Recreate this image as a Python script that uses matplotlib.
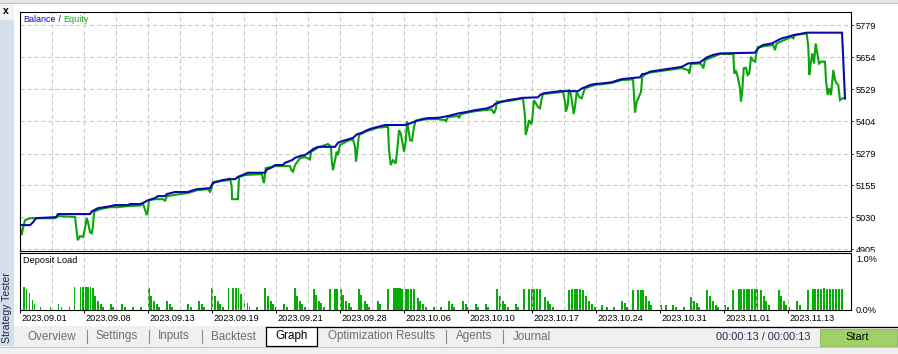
import numpy as np
import matplotlib
matplotlib.use('Agg')
import matplotlib.pyplot as plt
from matplotlib.patches import Rectangle
from matplotlib.transforms import ScaledTranslation

# ---- data ----
pos_bal = [20, 30, 33, 36, 56, 58, 90, 92, 98, 111, 115, 128, 130, 140, 143, 148, 155, 158, 165, 167,
           175, 188, 190, 197, 210, 213, 222, 228, 235, 238, 245, 248, 265, 267, 272, 275, 283, 285, 292, 295,
           300, 305, 310, 313, 318, 335, 338, 342, 348, 353, 357, 362, 367, 372, 378, 385, 405, 412, 417, 422,
           428, 438, 448, 458, 468, 475, 487, 493, 495, 502, 508, 515, 523, 538, 540, 543, 550, 560, 578, 582,
           585, 590, 595, 602, 612, 618, 622, 632, 640, 642, 647, 650, 660, 672, 682, 688, 700, 703, 707, 713,
           720, 755, 758, 763, 772, 777, 782, 788, 793, 800, 807, 842, 843, 844, 845]
balance = [5000, 5000, 5011, 5027, 5031, 5043, 5043, 5054, 5066, 5074, 5078, 5078, 5082, 5082, 5086, 5097, 5105, 5113, 5113, 5121,
           5129, 5129, 5132, 5140, 5144, 5164, 5175, 5179, 5179, 5188, 5199, 5204, 5204, 5217, 5225, 5234, 5234, 5243, 5253, 5262,
           5269, 5273, 5286, 5296, 5305, 5305, 5321, 5327, 5334, 5340, 5354, 5360, 5370, 5377, 5383, 5390, 5390, 5399, 5407, 5413,
           5417, 5418, 5425, 5435, 5442, 5448, 5455, 5464, 5472, 5481, 5487, 5491, 5496, 5498, 5507, 5513, 5517, 5522, 5522, 5533,
           5537, 5546, 5550, 5552, 5557, 5565, 5569, 5573, 5576, 5588, 5591, 5598, 5604, 5611, 5617, 5630, 5634, 5643, 5654, 5663,
           5669, 5672, 5689, 5702, 5708, 5719, 5728, 5734, 5740, 5745, 5750, 5750, 5669, 5578, 5494]

pos_eq = [20, 21.7, 23, 25, 30, 55, 58, 75, 77.7, 80, 83, 85, 86.7, 88, 90, 91.7, 93, 94, 100, 110,
          118, 128, 140, 143, 145, 146.7, 148, 149, 155, 163, 165, 167, 180, 188, 197, 208, 210, 211, 213, 222,
          228, 230, 231.7, 232, 238, 239, 245, 262, 263, 264, 265.7, 275, 290, 291.7, 293, 295, 300, 305, 310, 311,
          318, 328, 331, 331.7, 333, 335, 336.7, 338, 340, 348, 353, 355, 356, 357.7, 359, 366.7, 378, 388, 389, 390.7,
          393, 395.7, 397.7, 399, 400.7, 402, 404, 405.7, 407, 408, 410, 412, 414, 415.7, 428, 438, 445, 446, 448, 458,
          459, 461, 475, 491.7, 494, 496, 496.7, 508, 523, 524, 525, 525.7, 527.7, 529, 531, 532, 533, 534, 536, 537.7,
          540, 541.7, 543, 560, 563, 565, 566, 567.7, 569, 571, 572, 573.7, 575, 576.7, 579, 581.7, 583.7, 585, 595, 611.7,
          621.7, 633, 634, 635, 636.7, 638.3, 641, 642.3, 646.7, 660, 681.7, 688.3, 689.3, 691, 700, 701.7, 703.3, 705, 720, 733.3,
          734.3, 735.7, 737.7, 740, 741, 742.3, 743.7, 746, 747.7, 749.3, 751, 752.7, 755, 756.7, 758.3, 773.3, 775, 776.7, 791.7, 793.3,
          795, 806.7, 808.3, 809.3, 810.7, 812.3, 814, 815.7, 817.3, 819, 821, 825, 826, 827.7, 829.3, 831, 833.3, 835, 836.7, 838.3,
          840, 842.3, 845]
equity = [4992, 4961, 4988, 5019, 5027, 5027, 5035, 5032, 4941, 4957, 4954, 4988, 5027, 5012, 4972, 4968, 4996, 5052, 5062, 5070,
          5070, 5074, 5076, 5082, 5061, 5039, 5058, 5097, 5101, 5101, 5095, 5113, 5121, 5125, 5136, 5140, 5130, 5136, 5168, 5172,
          5175, 5183, 5149, 5101, 5101, 5187, 5195, 5199, 5175, 5164, 5222, 5230, 5230, 5212, 5208, 5234, 5261, 5265, 5256, 5285,
          5302, 5316, 5305, 5253, 5214, 5253, 5286, 5273, 5312, 5329, 5334, 5305, 5247, 5305, 5351, 5366, 5380, 5383, 5292, 5234,
          5253, 5240, 5312, 5370, 5357, 5331, 5286, 5325, 5403, 5383, 5331, 5329, 5383, 5407, 5413, 5413, 5409, 5405, 5421, 5425,
          5417, 5433, 5444, 5451, 5435, 5455, 5481, 5483, 5494, 5461, 5422, 5351, 5383, 5409, 5396, 5403, 5448, 5487, 5474, 5461,
          5455, 5494, 5511, 5518, 5520, 5481, 5442, 5468, 5529, 5507, 5481, 5433, 5461, 5520, 5500, 5494, 5520, 5534, 5546, 5554,
          5565, 5568, 5507, 5438, 5481, 5494, 5520, 5578, 5593, 5600, 5612, 5604, 5591, 5628, 5630, 5624, 5611, 5643, 5667, 5667,
          5591, 5604, 5578, 5533, 5481, 5526, 5611, 5613, 5585, 5591, 5656, 5643, 5637, 5676, 5694, 5702, 5682, 5708, 5734, 5728,
          5741, 5747, 5695, 5585, 5630, 5669, 5630, 5708, 5669, 5630, 5637, 5637, 5565, 5507, 5533, 5507, 5604, 5565, 5552, 5546,
          5487, 5494, 5494]

pos_load = [24, 26.5, 29.5, 32.5, 34.5, 40.5, 50.5, 58.5, 61.5, 69.5,
            74.5, 80.5, 82.7, 85.7, 88, 90.5, 93.3, 95.3, 98.3, 101.3, 103.3,
            111.3, 113.3, 122.3, 125.3, 133.3, 141.3,
            149.3, 151.3, 154.3, 157.3, 159.3, 167.3, 170.3, 172.3, 188.3, 191.3, 199.3, 202.3, 204.3,
            212.3, 215.3, 218.3, 220.3, 223.3,
            228.5, 233, 236, 238.5, 241, 244.5, 247.5, 249.5, 257.3,
            265.3, 268.3, 271.3, 273.3, 276.3, 284.3, 287.3,
            295.3, 297.3, 300.3, 302.3, 305,
            313.7, 315.7, 318.7, 320.7, 323.7,
            329.7, 334.7, 336.7, 340.7, 342.7, 345.7, 348.7, 350.7,
            358.7, 360.7, 364.7, 366.7, 368.7, 377.7, 379.7,
            387.7, 393.7, 395.7, 397.7, 399.7, 401.7, 405.7, 407.7, 410.7, 413.7, 417.7, 419.7, 422.7, 425.7,
            433.7, 440.7, 448.7, 451.7, 453.7, 462.7, 465.7, 467.7, 475.7, 477.7, 485.7, 487.7,
            496.7, 499.7, 502.7, 504.7, 507.7, 515.7, 517.7,
            523.7, 528.7, 531.7, 533.7, 536.7, 539.7, 544.7, 547.7, 549.7, 552.7,
            568.7, 571.7, 574.7, 576.7, 579.7, 582.7, 585.7, 588.7, 591.7, 594.7,
            601.7, 606.7, 613.7, 621.7, 624.7, 626.7,
            632.7, 637.7, 640.7, 642.7, 645.7, 648.7, 650.7,
            660.7, 665.7, 672.7, 675.7, 683.7, 690.7, 693.7, 696.7, 698.7,
            706.7, 709.7, 712.7, 715.7, 717.7, 724.7, 727.7,
            732.7, 738.7, 740.7, 743.7, 746.7, 748.7, 751.7, 754.7, 756.7, 760.7, 763.7, 765.7, 768.7,
            778.7, 780.7, 783.7, 785.7, 788.7, 796.7, 799.7,
            807.7, 812.7, 814.7, 817.7, 820.7, 823.7, 826.7, 829.7, 832.7, 835.7, 838.7, 841.7]
load = [.43, .39, .33, .19, .10, .04, .04, .10, .04, .04,
        .43, .43, .43, .43, .43, .43, .41, .27, .17, .10, .04,
        .10, .04, .10, .04, .04, .04,
        .41, .27, .17, .10, .04, .17, .10, .04, .10, .04, .17, .10, .04,
        .41, .27, .17, .10, .04,
        .41, .41, .41, .41, .31, .17, .12, .04, .04,
        .41, .27, .17, .10, .04, .10, .04,
        .41, .27, .17, .10, .04,
        .39, .29, .17, .12, .04,
        .39, .39, .39, .39, .29, .17, .12, .04,
        .39, .29, .16, .10, .04, .16, .10,
        .39, .41, .41, .41, .41, .39, .39, .39, .39, .39, .23, .17, .10, .04,
        .04, .04, .16, .10, .04, .16, .10, .04, .10, .04, .10, .04,
        .39, .27, .16, .10, .04, .10, .04,
        .39, .39, .39, .39, .39, .39, .25, .16, .10, .04,
        .37, .39, .39, .39, .39, .37, .27, .16, .10, .04,
        .08, .04, .04, .16, .12, .04,
        .37, .37, .37, .37, .27, .16, .08,
        .08, .08, .08, .04, .04, .25, .16, .12, .04,
        .37, .27, .16, .08, .04, .08, .04,
        .37, .39, .39, .39, .39, .39, .39, .39, .39, .37, .27, .16, .08,
        .37, .27, .16, .08, .04, .16, .08,
        .37, .39, .39, .39, .39, .41, .39, .39, .39, .39, .40, .40]

y_ticks = [4905, 5030, 5155, 5279, 5404, 5529, 5654, 5779]
date_labels = ['2023.09.01', '2023.09.08', '2023.09.13', '2023.09.19', '2023.09.21', '2023.09.28',
               '2023.10.06', '2023.10.10', '2023.10.17', '2023.10.24', '2023.10.31', '2023.11.01', '2023.11.13']

W, H = 898, 354
plt.rcParams['font.family'] = ['Liberation Sans', 'DejaVu Sans']

def box(x0, y0, x1, y1):
	return [x0 / W, 1 - y1 / H, (x1 - x0) / W, (y1 - y0) / H]

fig = plt.figure(figsize=(W / 100, H / 100), dpi=100)
fig.patch.set_facecolor('white')

# background (window chrome)
bg = fig.add_axes([0, 0, 1, 1], zorder=-1)
bg.set_xlim(0, W)
bg.set_ylim(H, 0)
bg.axis('off')
bg.add_patch(Rectangle((0, 0), W, 3, color='#e4e4e4', lw=0))
bg.add_patch(Rectangle((0, 3), 13.5, 17, color='#f2f2f2', lw=0))
bg.add_patch(Rectangle((0, 20), 13.5, 326, color='#d3dfeb', lw=0))
bg.add_patch(Rectangle((14, 326), W - 14, 20, color='#f0f0f0', lw=0))
bg.add_patch(Rectangle((0, 346), W, 8, color='#f0f0f0', lw=0))
bg.plot([0, W], [346.5, 346.5], color='#c8c8c8', lw=0.8)
bg.plot([0, W], [2.5, 2.5], color='#c4c4c4', lw=0.8)

grid_kw = dict(color='#c8c8c8', lw=0.75, ls=(0, (3.8, 2.9)))
major_x = 20 + 64 * np.arange(len(date_labels))
minor_x = major_x[:-1] + 32

# ---- balance / equity panel ----
ax = fig.add_axes(box(19.5, 11.5, 850.5, 250.5), zorder=1)
ax.plot(pos_eq, equity, color='#0aa50a', lw=1.5, solid_joinstyle='miter')
ax.plot(pos_bal, balance, color='#0a0aaa', lw=1.5, solid_joinstyle='miter')
ax.set_xlim(19.5, 850.5)
ax.set_ylim(4901, 5832.5)
ax.set_xticks(major_x)
ax.set_xticks(minor_x, minor=True)
ax.set_yticks(y_ticks)
ax.set_yticklabels([str(v) for v in y_ticks])
ax.grid(True, which='both', axis='x', **grid_kw)
ax.grid(True, axis='y', **grid_kw)
ax.tick_params(axis='x', which='both', bottom=False, labelbottom=False)
ax.tick_params(axis='y', left=False, labelleft=False, right=True, labelright=True,
               length=1.5, width=0.7, pad=2, labelsize=6.6)
for s in ax.spines.values():
	s.set_linewidth(0.8)
clip = Rectangle((0, 1 - 251.5 / H), 1, 1, transform=fig.transFigure)
for t in ax.yaxis.get_major_ticks():
	t.label2.set_clip_path(clip)

# ---- deposit load panel ----
ax2 = fig.add_axes(box(19.5, 252.5, 850.5, 309.5), zorder=2)
ax2.bar(pos_load, load, width=1.8, color='#06ad06', align='center', lw=0)
ax2.set_xlim(19.5, 850.5)
ax2.set_ylim(0, 1.107)
ax2.set_xticks(major_x)
ax2.set_xticklabels(date_labels)
ax2.set_xticks(minor_x, minor=True)
ax2.grid(True, which='both', axis='x', **grid_kw)
ax2.set_yticks([0, 1])
ax2.set_yticklabels(['0.0%', '1.0%'])
ax2.tick_params(axis='y', left=False, labelleft=False, right=True, labelright=True,
                length=0, pad=4, labelsize=6.6)
ax2.tick_params(axis='x', which='major', length=2, width=0.7, pad=1.5, labelsize=6.6)
ax2.tick_params(axis='x', which='minor', length=0)
for lab in ax2.get_xticklabels():
	lab.set_horizontalalignment('left')
	lab.set_transform(lab.get_transform() + ScaledTranslation(1.5 / 100, 0, fig.dpi_scale_trans))
for s in ax2.spines.values():
	s.set_linewidth(0.8)

# ---- foreground texts ----
fg = fig.add_axes([0, 0, 1, 1], zorder=5)
fg.set_xlim(0, W)
fg.set_ylim(H, 0)
fg.axis('off')
fg.patch.set_alpha(0)

t1 = fg.text(23, 19.5, 'Balance', color='#1010c0', fontsize=6.5, va='center')
t2 = fg.annotate(' / ', xy=(1, 0.5), xycoords=t1, va='center', color='#222222', fontsize=6.5)
fg.annotate('Equity', xy=(1, 0.5), xycoords=t2, va='center', color='#10b010', fontsize=6.5)
fg.text(23, 260.5, 'Deposit Load', color='black', fontsize=6.6, va='center')

fg.text(5.5, 11, 'x', fontsize=7.5, fontweight='bold', ha='center', va='center')
fg.text(6.8, 308, 'Strategy Tester', rotation=90, fontsize=7.6, color='#1c2a3e', ha='center', va='center')

tabs = [('Overview', 28), ('Settings', 96), ('Inputs', 158), ('Backtest', 211),
        ('Graph', 275), ('Optimization Results', 328), ('Agents', 456), ('Journal', 513)]
for name, x in tabs:
	fg.text(x, 336.5, name, fontsize=8.4, va='center',
	        color='black' if name == 'Graph' else '#6e6e6e')
for x in [87, 149, 202, 446, 503]:
	fg.plot([x, x], [330, 343], color='#8a8a8a', lw=0.8)

bg.add_patch(Rectangle((265.5, 326.5), 51.5, 19.5, facecolor='white', edgecolor='none'))
fg.plot([265.5, 265.5, 317, 317], [326.5, 346, 346, 326.5], color='black', lw=0.9)
fg.plot([265.5, W], [326.5, 326.5], color='black', lw=0.9)

fg.text(716, 337.5, '00:00:13 / 00:00:13', fontsize=7.9, color='#1e2f4e', va='center')
fg.add_patch(Rectangle((820, 328.5), 77, 17.5, facecolor='#a0d06a', edgecolor='#8ab856', lw=0.6))
fg.text(857.5, 337.5, 'Start', fontsize=7.9, ha='center', va='center', color='black')

fig.savefig('out.png', dpi=100)
